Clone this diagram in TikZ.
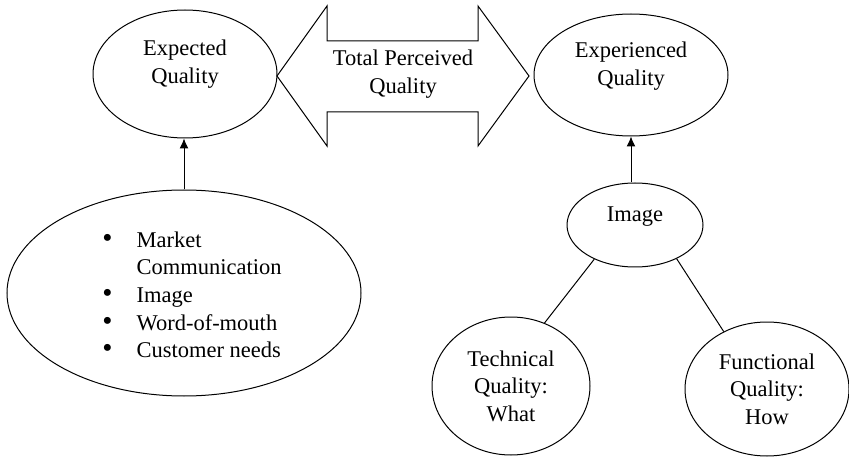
\documentclass[tikz,border=0pt]{standalone}
\usepackage{fontspec}
\setmainfont{Liberation Serif}
\usetikzlibrary{arrows.meta, shapes.geometric}

\newcommand{\bigbullet}{{\fontsize{29}{27.5}\selectfont\textbullet}}

\begin{document}
\begin{tikzpicture}[x=1pt, y=-1pt, line width=1pt,
    every node/.style={font=\fontsize{22.5}{27.5}\selectfont},
    oval/.style={draw, ellipse, inner sep=0pt, align=center},
    tip/.style={-{Latex[length=10pt, width=9pt]}}]
    \useasboundingbox (0, 0) rectangle (849, 457);

    % Expected side
    \node[oval, minimum width=184pt, minimum height=128pt] (expected) at (185, 74) {};
    \node[align=center] (expected-txt) at (185, 64) {Expected\\Quality};
    \node[oval, minimum width=354pt, minimum height=206pt] (sources) at (184, 293) {};
    \node (sources-txt) at (192, 297) {\begin{tabular}{@{}l@{\hspace{24pt}}l@{}}
        \bigbullet & Market\\
                   & Communication\\
        \bigbullet & Image\\
        \bigbullet & Word-of-mouth\\
        \bigbullet & Customer needs
    \end{tabular}};
    \draw[tip] (sources.north) -- (sources.north |- expected.south);

    % Total perceived quality
    \draw (277, 76) -- (327, 6) -- (327, 41) -- (478, 41) -- (478, 6) -- (529, 76)
        -- (478, 146) -- (478, 112) -- (327, 112) -- (327, 146) -- cycle;
    \node[align=center] (perceived) at (403, 74) {Total Perceived\\Quality};

    % Experienced side
    \node[oval, minimum width=194pt, minimum height=122pt] (experienced) at (631, 75) {};
    \node[align=center] (experienced-txt) at (631, 66) {Experienced\\Quality};
    \node[oval, minimum width=136pt, minimum height=84pt] (image) at (635, 225) {};
    \node (image-txt) at (635, 217) {Image};
    \draw[tip] (experienced.south |- image.north) -- (experienced.south);

    \node[oval, minimum width=158pt, minimum height=138pt] (technical) at (511, 386) {Technical\\Quality:\\What};
    \node[oval, minimum width=164pt, minimum height=134pt] (functional) at (767, 389) {Functional\\Quality:\\How};
    \draw (image.220) -- (technical.62);
    \draw (image.321) -- (functional.127);
\end{tikzpicture}
\end{document}
